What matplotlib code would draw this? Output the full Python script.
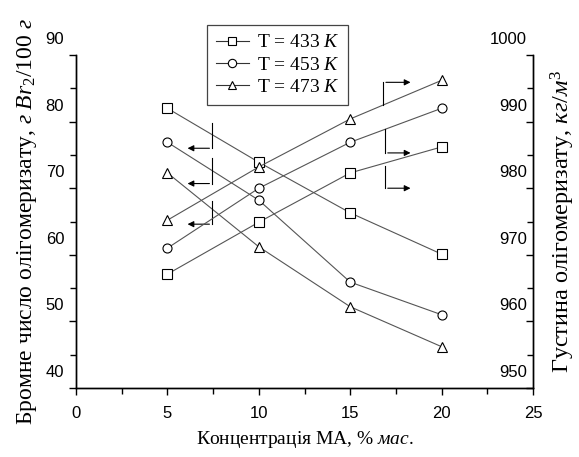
import numpy as np
import matplotlib
matplotlib.use('Agg')
import matplotlib.pyplot as plt
import matplotlib.transforms as mtransforms
from matplotlib.ticker import MultipleLocator
from matplotlib.lines import Line2D

plt.rcParams['font.family'] = 'Liberation Sans'
plt.rcParams['mathtext.fontset'] = 'custom'
plt.rcParams['mathtext.rm'] = 'Liberation Serif'
plt.rcParams['mathtext.it'] = 'Liberation Serif:italic'

# concentration of MA, % mass
conc = [5, 10, 15, 20]

# bromine number (left axis), g Br2/100 g
brom_433 = [82.0, 73.9, 66.3, 60.1]
brom_453 = [76.9, 68.2, 55.9, 51.0]
brom_473 = [72.3, 61.2, 52.2, 46.2]

# density (right axis), kg/m3
dens_433 = [967.1, 974.9, 982.3, 986.2]
dens_453 = [971.0, 980.0, 986.9, 992.0]
dens_473 = [975.2, 983.2, 990.4, 996.2]

labels = ['T = 433 $K$', 'T = 453 $K$', 'T = 473 $K$']
markers = ['s', 'o', '^']

fig = plt.figure(figsize=(5.79, 4.57), dpi=100)
ax = fig.add_axes([0.1313, 0.151, 0.7893, 0.7286])
ax2 = ax.twinx()

lc = '#555555'
for y, m in zip([brom_433, brom_453, brom_473], markers):
    ax.plot(conc, y, '-', color=lc, lw=0.8, marker=m, ms=6.5, mfc='white',
            mec='black', mew=0.8)
for y, m in zip([dens_433, dens_453, dens_473], markers):
    ax2.plot(conc, y, '-', color=lc, lw=0.8, marker=m, ms=6.5, mfc='white',
             mec='black', mew=0.8)

ax.set_xlim(0, 25)
ax.set_ylim(40, 90)
ax2.set_ylim(950, 1000)

ax.set_xticks([0, 5, 10, 15, 20, 25])
ax.xaxis.set_minor_locator(MultipleLocator(2.5))
ax.set_yticks([40, 50, 60, 70, 80, 90])
ax.yaxis.set_minor_locator(MultipleLocator(5))
ax2.set_yticks([950, 960, 970, 980, 990, 1000])
ax2.yaxis.set_minor_locator(MultipleLocator(5))

for a in (ax, ax2):
    a.spines['top'].set_visible(False)
    for s in a.spines.values():
        s.set_linewidth(1.0)
ax.tick_params(axis='x', which='major', direction='out', length=5, width=1, labelsize=12, pad=8)
ax.tick_params(axis='x', which='minor', direction='out', length=4, width=1)
ax.tick_params(axis='y', which='major', direction='out', length=5, width=1, labelsize=12)
ax.tick_params(axis='y', which='minor', direction='out', length=4, width=1)
ax2.tick_params(axis='y', which='major', direction='in', length=5, width=1, labelsize=12, pad=0)
ax2.tick_params(axis='y', which='minor', direction='in', length=4, width=1)

# y tick labels sit a bit above their ticks in the original,
# and the right-hand ones are drawn inside the frame
off = mtransforms.ScaledTranslation(0, 17 / 100, fig.dpi_scale_trans)
for lab in ax.get_yticklabels():
    lab.set_transform(lab.get_transform() + off)
off_r = mtransforms.ScaledTranslation(-6 / 100, 17 / 100, fig.dpi_scale_trans)
for lab in ax2.get_yticklabels():
    lab.set_horizontalalignment('right')
    lab.set_transform(lab.get_transform() + off_r)

ax.set_xlabel('Концентрація МА, $\\mathit{\\%\\ мас.}$', family='Liberation Serif',
              fontsize=14, labelpad=6)
ax.set_ylabel('Бромне число олігомеризату, $\\mathit{г\\ Br_2/100\\ г}$',
              family='Liberation Serif', fontsize=17, labelpad=5)
ax2.set_ylabel('Густина олігомеризату, $\\mathit{кг/м}^3$',
               family='Liberation Serif', fontsize=17.5, labelpad=8)

# L-shaped pointer arrows (which axis each group belongs to)
arr_kw = dict(arrowstyle='-|>', color='black', lw=0.8, mutation_scale=9)
left_arrows = [(7.45, 79.8, 76.0), (7.45, 74.5, 70.7), (7.45, 68.1, 64.6)]
for xc, ytop, ybot in left_arrows:
    ax.plot([xc, xc], [ytop, ybot], color='black', lw=0.8)
    ax.annotate('', xy=(5.95, ybot), xytext=(xc, ybot), arrowprops=arr_kw)
right_arrows = [(16.8, 992.5, 995.9), (16.9, 988.9, 985.3), (16.9, 983.3, 980.0)]
for xc, ystart, ycorner in right_arrows:
    ax2.plot([xc, xc], [ystart, ycorner], color='black', lw=0.8)
    ax2.annotate('', xy=(18.45, ycorner), xytext=(xc, ycorner), arrowprops=arr_kw)

handles = [Line2D([], [], color='#333333', lw=0.8, marker=m, ms=6, mfc='white',
                  mec='black', mew=0.8) for m in markers]
leg = fig.legend(handles, labels, loc='upper left', bbox_to_anchor=(207 / 579, 1 - 25 / 457),
                 fancybox=False, edgecolor='#444444', framealpha=1,
                 prop={'family': 'Liberation Serif', 'size': 14},
                 handlelength=1.7, handletextpad=0.4, labelspacing=0.25,
                 borderpad=0.45, borderaxespad=0)
leg.get_frame().set_linewidth(0.9)

fig.savefig('out.png', dpi=100)
